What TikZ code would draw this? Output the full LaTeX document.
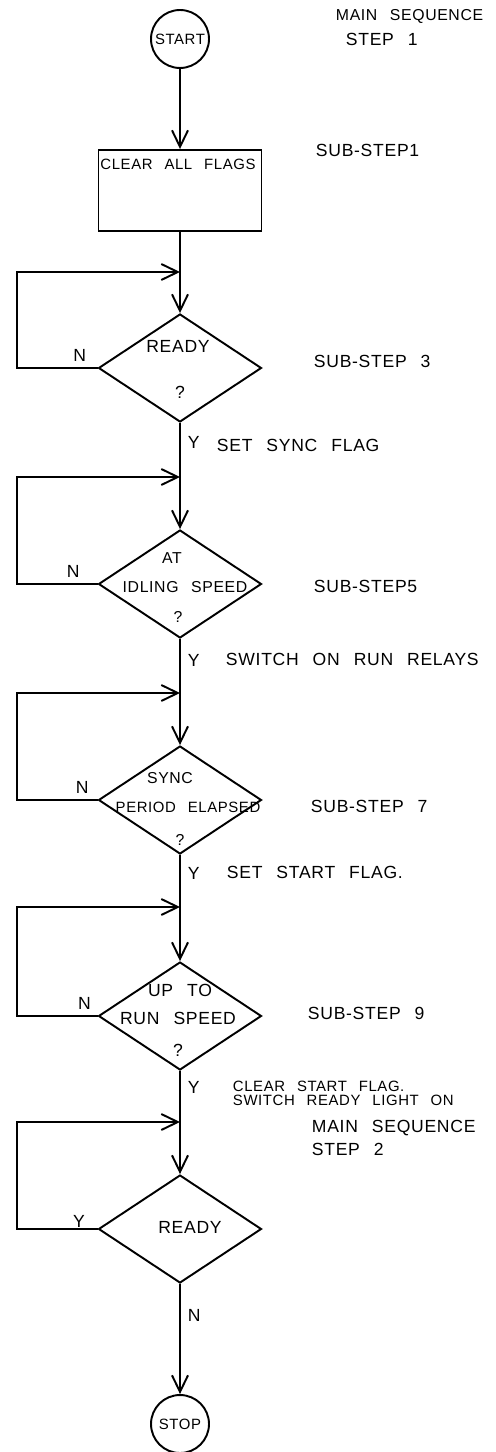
\documentclass[tikz,border=0pt]{standalone}
\usepackage{fontspec}
\setmainfont{Liberation Sans}[LetterSpace=4,WordSpace=2.5]
\usetikzlibrary{shapes.geometric,arrows.meta}
\begin{document}
\begin{tikzpicture}[x=0.02cm, y=-0.02cm, >={Straight Barb[length=3.3mm,width=3.2mm]}, line width=1.1pt,
	every node/.style={font=\fontsize{10}{12}\selectfont, inner sep=0pt},
	term/.style={draw, circle, minimum size=1.16cm, font=\fontsize{8.5}{10}\selectfont},
	procbox/.style={draw, rectangle, minimum width=3.26cm, minimum height=1.62cm},
	decision/.style={draw, diamond, minimum width=3.26cm, minimum height=2.16cm},
	intxt/.style={anchor=base, font=\fontsize{9}{11}\selectfont},
	note/.style={anchor=base west}]
	\useasboundingbox (0,0) rectangle (496,1452);
	
	% === flow chart boxes ===
	\node[term] (start) at (180,39) {START};
	\node[procbox] (clear) at (180,190.5) {};
	\node[intxt, font=\fontsize{8.5}{10}\selectfont] (cleartxt) at (178,170) {CLEAR ALL FLAGS};
	
	\node[decision] (d1) at (180,368) {};
	\node[intxt, font=\fontsize{10}{12}\selectfont] (d1a) at (178,353) {READY};
	\node[intxt, font=\fontsize{10}{12}\selectfont] (d1b) at (180,399) {?};
	
	\node[decision] (d2) at (180,584) {};
	\node[intxt] (d2a) at (172,563) {AT};
	\node[intxt] (d2b) at (185,592) {IDLING SPEED};
	\node[intxt] (d2c) at (178,622) {?};
	
	\node[decision] (d3) at (180,800) {};
	\node[intxt] (d3a) at (170,783) {SYNC};
	\node[intxt, font=\fontsize{8.5}{10}\selectfont] (d3b) at (188,812) {PERIOD ELAPSED};
	\node[intxt] (d3c) at (180,845) {?};
	
	\node[decision] (d4) at (180,1016) {};
	\node[intxt, font=\fontsize{10}{12}\selectfont] (d4a) at (180,996) {UP TO};
	\node[intxt, font=\fontsize{10}{12}\selectfont] (d4b) at (178,1024) {RUN SPEED};
	\node[intxt, font=\fontsize{10}{12}\selectfont] (d4c) at (178,1056) {?};
	
	\node[decision] (d5) at (180,1229) {};
	\node[intxt, font=\fontsize{10}{12}\selectfont] (d5a) at (190,1233) {READY};
	
	\node[term] (stop) at (180,1424) {STOP};
	
	% loop entry points on the main line
	\coordinate (j1) at (180,272);
	\coordinate (j2) at (180,477);
	\coordinate (j3) at (180,693);
	\coordinate (j4) at (180,907);
	\coordinate (j5) at (180,1122);
	
	% === main line ===
	\draw[->] (start) -- (clear);
	\draw[->] (clear) -- (d1);
	\draw[->] (d1) -- node[pos=0.18, right=4pt] {Y} (d2);
	\draw[->] (d2) -- node[pos=0.2, right=4pt] {Y} (d3);
	\draw[->] (d3) -- node[pos=0.17, right=4pt] {Y} (d4);
	\draw[->] (d4) -- node[pos=0.16, right=4pt] {Y} (d5);
	\draw[->] (d5) -- node[pos=0.29, right=4pt] {N} (stop);
	
	% === wait loops ===
	\draw[->] (d1.west) -- node[pos=0.22, above=3pt] {N} ++(-81,0) |- (j1);
	\draw[->] (d2.west) -- node[pos=0.3, above=3pt] {N} ++(-81,0) |- (j2);
	\draw[->] (d3.west) -- node[pos=0.19, above=3pt] {N} ++(-81,0) |- (j3);
	\draw[->] (d4.west) -- node[pos=0.16, above=3pt] {N} ++(-81,0) |- (j4);
	\draw[->] (d5.west) -- node[pos=0.23, above=0.5pt] {Y} ++(-81,0) |- (j5);
	
	% === notes on the right ===
	\node[note, font=\fontsize{9}{11}\selectfont] (main1) at (335,21) {MAIN SEQUENCE};
	\node[note] (step1) at (345,46) {STEP 1};
	\node[note] (sub1) at (315,157) {SUB-STEP1};
	\node[note] (sub3) at (313,368) {SUB-STEP 3};
	\node[note] (sub5) at (313,592) {SUB-STEP5};
	\node[note] (sub7) at (310,812) {SUB-STEP 7};
	\node[note] (sub9) at (307,1019) {SUB-STEP 9};
	
	\node[note] (act1) at (216,452) {SET SYNC FLAG};
	\node[note] (act2) at (225,665) {SWITCH ON RUN RELAYS};
	\node[note] (act3) at (226,878) {SET START FLAG.};
	\node[note, font=\fontsize{8.5}{10}\selectfont] (act4a) at (232,1091) {CLEAR START FLAG.};
	\node[note, font=\fontsize{8.5}{10}\selectfont] (act4b) at (232,1105) {SWITCH READY LIGHT ON};
	\node[note] (main2) at (311,1132) {MAIN SEQUENCE};
	\node[note] (step2) at (311,1155) {STEP 2};
\end{tikzpicture}
\end{document}
